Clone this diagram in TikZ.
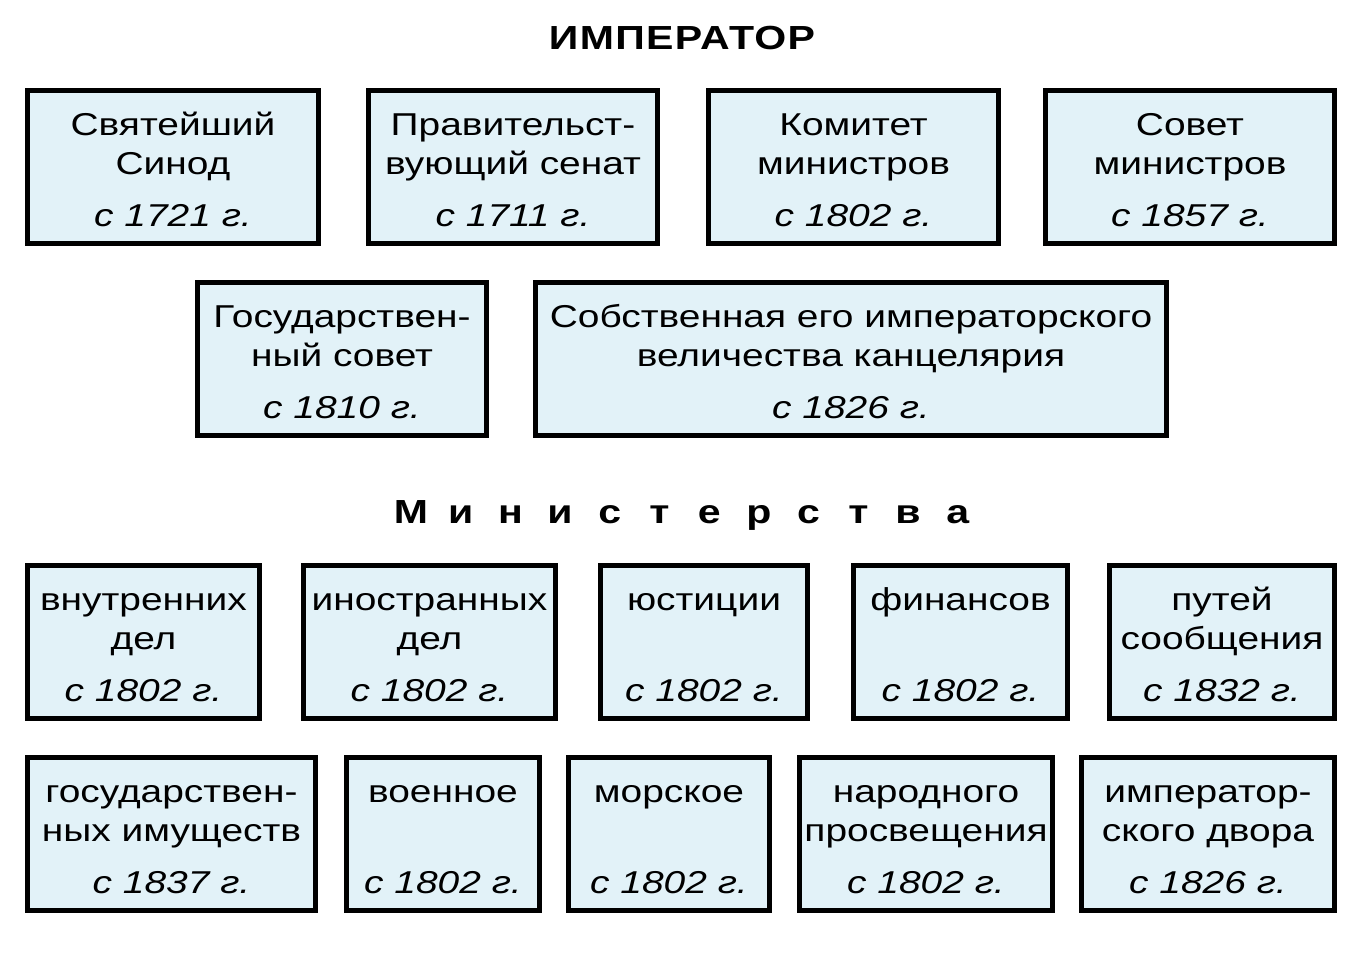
\documentclass[tikz,border=0pt]{standalone}
\usepackage{fontspec}
\setmainfont{Liberation Sans}[FakeStretch=1.23]
\usetikzlibrary{positioning}

\definecolor{boxblue}{RGB}{226,242,248}
\newcommand{\since}[1]{\textit{с #1 г.}}
\newcommand{\tl}{\rule{0pt}{16pt}}

\begin{document}
\begin{tikzpicture}[x=0.02cm, y=-0.02cm,
    box/.style={draw, line width=2.6pt, fill=boxblue, align=center, inner sep=0pt,
        minimum height=3.07cm, font=\fontsize{18}{22.7}\selectfont},
    heading/.style={font=\bfseries\fontsize{19}{22}\selectfont, inner sep=0pt}]
\useasboundingbox (0,0) rectangle (1359,980);

% ---------------- Emperor ----------------
\node[heading] (emperor) at (682,38) {\addfontfeature{LetterSpace=4}ИМПЕРАТОР};

% ---------------- Higher institutions ----------------
\node[box, minimum width=5.83cm] (synod)   at (173,167)  {\tl Святейший\\Синод\\[6.8pt]\since{1721}};
\node[box, minimum width=5.79cm] (senate)  at (513,167)  {\tl Правительст-\\вующий сенат\\[6.8pt]\since{1711}};
\node[box, minimum width=5.81cm] (comm)    at (853.5,167) {\tl Комитет\\министров\\[6.8pt]\since{1802}};
\node[box, minimum width=5.79cm] (council) at (1190,167) {\tl Совет\\министров\\[6.8pt]\since{1857}};

\node[box, minimum width=5.79cm]  (statecouncil) at (342,359) {\tl Государствен-\\ный совет\\[6.8pt]\since{1810}};
\node[box, minimum width=12.63cm] (chancery)     at (851,359) {\tl Собственная его императорского\\величества канцелярия\\[6.8pt]\since{1826}};

% ---------------- Ministries ----------------
\foreach \ch [count=\i] in {М,и,н,и,с,т,е,р,с,т,в,а}
    \node[heading, anchor=base] (min\i) at ({411+49.7*(\i-1)},523) {\ch};

\node[box, minimum width=4.65cm] (interior) at (143.5,642) {\tl внутренних\\дел\\[6.8pt]\since{1802}};
\node[box, minimum width=5.05cm] (foreign)  at (429.5,642) {\tl иностранных\\дел\\[6.8pt]\since{1802}};
\node[box, minimum width=4.15cm] (justice)  at (704,642)   {\tl юстиции\\\strut\\[6.8pt]\since{1802}};
\node[box, minimum width=4.29cm] (finance)  at (960.5,642) {\tl финансов\\\strut\\[6.8pt]\since{1802}};
\node[box, minimum width=4.51cm] (ways)     at (1222,642)  {\tl путей\\сообщения\\[6.8pt]\since{1832}};

\node[box, minimum width=5.77cm] (property)  at (171.5,834) {\tl государствен-\\ных имуществ\\[6.8pt]\since{1837}};
\node[box, minimum width=3.87cm] (war)       at (443,834)   {\tl военное\\\strut\\[6.8pt]\since{1802}};
\node[box, minimum width=4.03cm] (navy)      at (669,834)   {\tl морское\\\strut\\[6.8pt]\since{1802}};
\node[box, minimum width=5.07cm] (education) at (926,834)   {\tl народного\\просвещения\\[6.8pt]\since{1802}};
\node[box, minimum width=5.07cm] (court)     at (1208,834)  {\tl император-\\ского двора\\[6.8pt]\since{1826}};

\end{tikzpicture}
\end{document}
